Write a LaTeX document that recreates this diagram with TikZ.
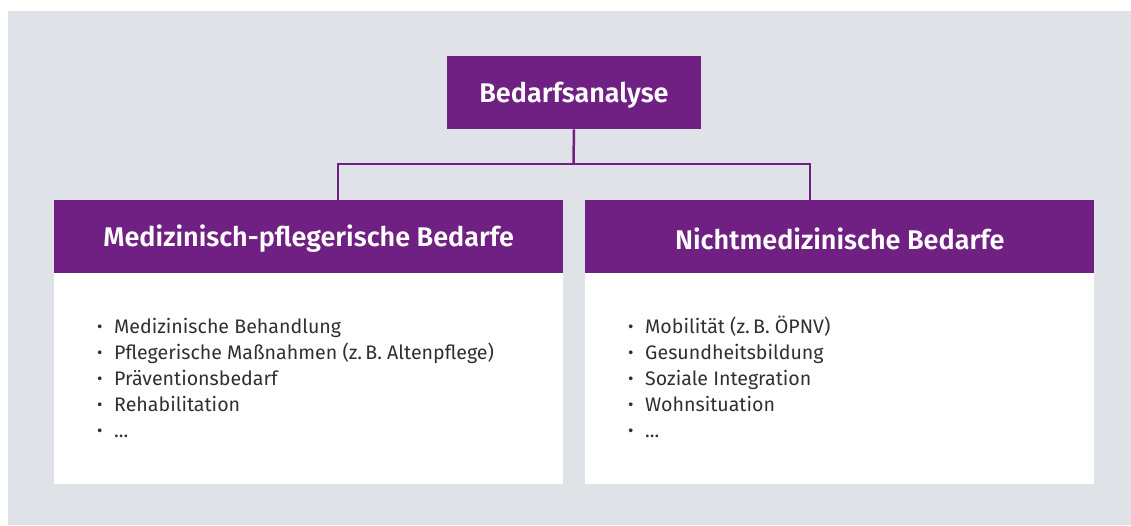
\documentclass[tikz,border=0pt]{standalone}
\usepackage{fontspec}
\setmainfont{Fira Sans}[BoldFont={Fira Sans SemiBold}]
\definecolor{bpurple}{RGB}{112,32,130}
\definecolor{bgray}{RGB}{223,226,230}
\definecolor{btext}{RGB}{46,48,51}
\newcommand{\itm}{\makebox[17pt][l]{\raisebox{0.5pt}{\scalebox{0.85}{\textbullet}}}}
\begin{document}
\begin{tikzpicture}[x=1pt,y=-1pt,
  headbox/.style={fill=bpurple,draw=none,inner sep=0pt,anchor=north west},
  headtext/.style={text=white,font=\fontsize{27}{30}\selectfont\bfseries,inner sep=0pt},
  bodybox/.style={fill=white,draw=none,inner sep=0pt,anchor=north west},
  conn/.style={draw=bpurple,line width=2.5pt},
  items/.style={text=btext,font=\fontsize{19.6}{26}\selectfont,anchor=north west,align=left,inner sep=0pt}]
\useasboundingbox (0,0) rectangle (1131,525);
\fill[bgray] (8,11) rectangle (1131,525);
% top box
\node[headbox,minimum width=253.5pt,minimum height=73pt] (top) at (447,56) {};
\node[headtext] (toplabel) at ([yshift=-2.5pt]top.center) {Bedarfsanalyse};
% left
\node[bodybox,minimum width=509pt,minimum height=284pt] (lbody) at (54,200) {};
\node[headbox,minimum width=509pt,minimum height=73pt] (lhead) at (54,200) {};
\node[headtext] (lheadlabel) at ([yshift=-2pt]lhead.center) {Medizinisch-pflegerische Bedarfe};
% right
\node[bodybox,minimum width=509pt,minimum height=284pt] (rbody) at (585,200) {};
\node[headbox,minimum width=509pt,minimum height=73pt] (rhead) at (585,200) {};
\node[headtext] (rheadlabel) at ([yshift=-2pt]rhead.center) {Nichtmedizinische Bedarfe};
% connectors
\coordinate (j) at (573.5,164.2);
\draw[conn] (top.south) -- (j);
\draw[conn] (lhead.north -| 338,0) |- (j) -| (rhead.north -| 810,0);
% items
\node[items] (litems) at (97,315) {%
  \rule{0pt}{18pt}\itm Medizinische Behandlung\\
  \itm Pflegerische Maßnahmen (z.\,B. Altenpflege)\\
  \itm Präventionsbedarf\\
  \itm Rehabilitation\\
  \itm ...};
\node[items] (ritems) at (628,315) {%
  \rule{0pt}{18pt}\itm Mobilität (z.\,B. ÖPNV)\\
  \itm Gesundheitsbildung\\
  \itm Soziale Integration\\
  \itm Wohnsituation\\
  \itm ...};
\end{tikzpicture}
\end{document}
